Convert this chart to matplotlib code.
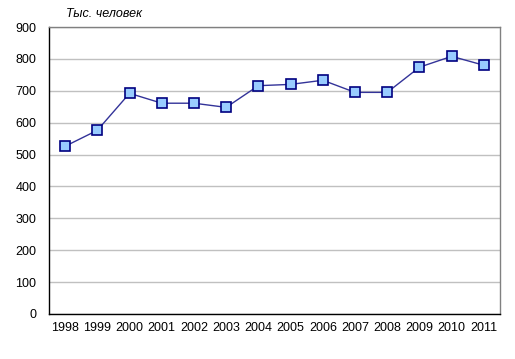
import matplotlib.pyplot as plt

plt.rcParams['font.family'] = ['Liberation Sans', 'DejaVu Sans']

years = ['1998', '1999', '2000', '2001', '2002', '2003', '2004',
         '2005', '2006', '2007', '2008', '2009', '2010', '2011']
values = [526, 576, 692, 661, 661, 648, 716, 720, 733, 695, 695, 774, 808, 780]

fig = plt.figure(figsize=(5.15, 3.59), dpi=100)
ax = fig.add_axes([49 / 515, 1 - 314 / 359, 451 / 515, 287 / 359])

x = range(len(years))
ax.plot(x, values, color='#333399', lw=1, marker='s', ms=6.5,
        markerfacecolor='#99ccff', markeredgecolor='#000080', markeredgewidth=1.2,
        zorder=3)

ax.set_xlim(-0.5, len(years) - 0.5)
ax.set_ylim(0, 900)
ax.set_yticks(range(0, 901, 100))
ax.set_xticks(list(x))
ax.set_xticklabels(years)
ax.tick_params(axis='both', length=0, labelsize=9, colors='black')
ax.tick_params(axis='y', pad=9)
ax.tick_params(axis='x', pad=6)
ax.yaxis.grid(True, color='#c0c0c0', lw=1)
ax.set_axisbelow(True)

ax.spines['left'].set_color('black')
ax.spines['bottom'].set_color('black')
ax.spines['top'].set_color('#808080')
ax.spines['right'].set_color('#808080')
for s in ax.spines.values():
    s.set_linewidth(1)

fig.text(66 / 515, 1 - 14 / 359, 'Тыс. человек', fontsize=9, style='italic',
         va='center', ha='left')

fig.savefig('out.png', dpi=100)
